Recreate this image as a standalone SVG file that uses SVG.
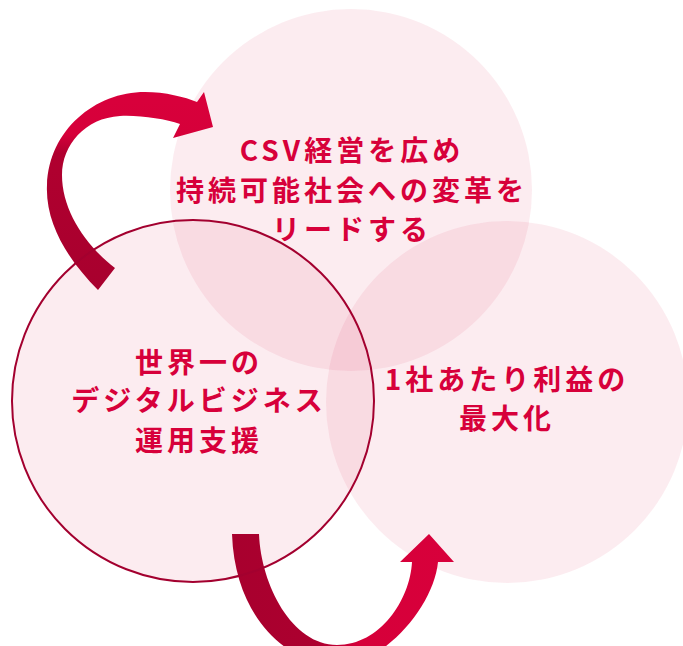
<svg xmlns="http://www.w3.org/2000/svg" width="683" height="646" viewBox="0 0 683 646">
<style>
.bg{fill:#e6476b;fill-opacity:0.1}
.lbl{font-family:"Noto Sans CJK JP","Noto Sans CJK SC",sans-serif;font-weight:700;font-size:28px;letter-spacing:4px;fill:#d7003a;text-anchor:middle}
.ring{fill:none;stroke:#a3002f;stroke-width:2}
</style>
<defs>
<linearGradient id="gUp" gradientUnits="userSpaceOnUse" x1="0" y1="290" x2="0" y2="100">
<stop offset="0" stop-color="#a8002e"/>
<stop offset="0.72" stop-color="#b0002f"/>
<stop offset="0.82" stop-color="#d6003a"/>
<stop offset="1" stop-color="#d8003b"/>
</linearGradient>
<linearGradient id="gDown" gradientUnits="userSpaceOnUse" x1="232" y1="0" x2="454" y2="0">
<stop offset="0" stop-color="#a8002e"/>
<stop offset="0.38" stop-color="#ac002f"/>
<stop offset="0.58" stop-color="#d6003a"/>
<stop offset="1" stop-color="#d8003b"/>
</linearGradient>
</defs>
<g id="node-csv">
<circle class="bg" cx="351" cy="190" r="181"/>
<text class="lbl" x="352" y="161">CSV経営を広め</text>
<text class="lbl" x="352" y="201">持続可能社会への変革を</text>
<text class="lbl" x="352" y="240">リードする</text>
</g>
<g id="node-profit">
<circle class="bg" cx="507" cy="402" r="181"/>
<text class="lbl" x="507" y="390">1社あたり利益の</text>
<text class="lbl" x="507" y="429">最大化</text>
</g>
<g id="node-digital">
<circle class="bg" cx="193" cy="401" r="181"/>
<text class="lbl" x="199" y="373">世界一の</text>
<text class="lbl" x="199" y="411">デジタルビジネス</text>
<text class="lbl" x="199" y="451">運用支援</text>
</g>
<g id="connectors">
<path fill="url(#gUp)" d="M98,290 C70,262 45,225 47,185 C49,130 95,92 145,92 C165,92 185,97 197,102 L204,92 L213,127 L173,138 L180,124 C165,119 140,115 120,116 C85,118 62,145 62,175 C62,210 85,245 115,268 Z"/>
<path fill="url(#gDown)" d="M232,534 L259,534 C261,585 292,645 337,645 C380,645 410,600 412,562 L400,562 L429,534 L454,562 L438,562 C434,605 385,665 337,665 C290,665 235,620 232,534 Z"/>
</g>
<circle class="ring" cx="193" cy="401" r="181"/>
</svg>
